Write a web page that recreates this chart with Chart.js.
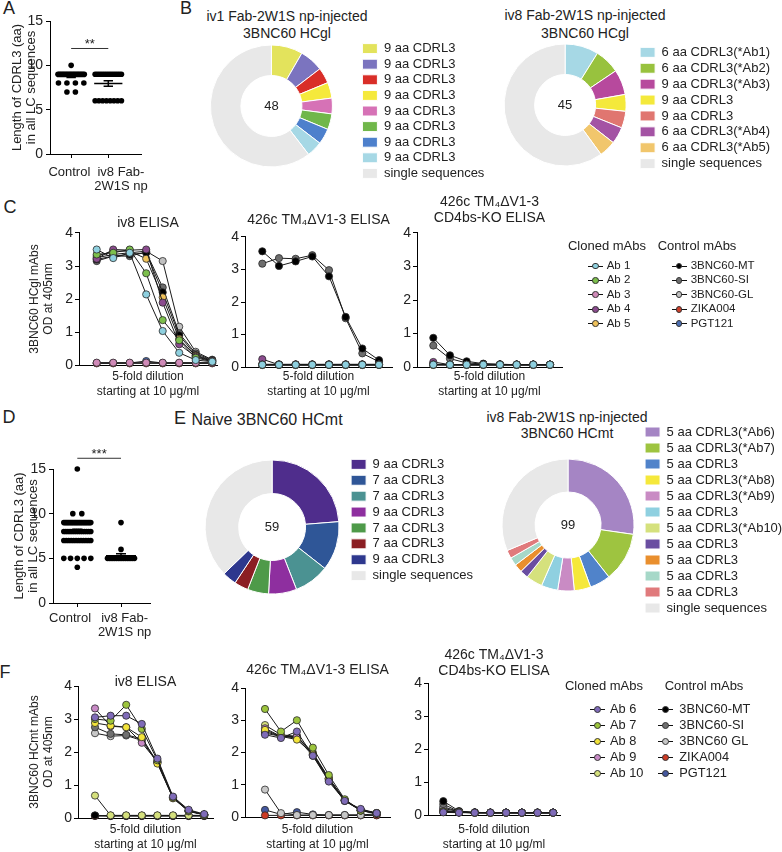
<!DOCTYPE html>
<html>
<head>
<meta charset="utf-8">
<title>3BNC60 light chain panels</title>
<script src="https://cdn.jsdelivr.net/npm/chart.js@4.4.1/dist/chart.umd.min.js"></script>
<style>
  body { margin: 0; background: #fff; }
  #fig { position: relative; width: 782px; height: 852px; overflow: hidden; background: #fff;
         font-family: "Liberation Sans", Arial, Helvetica, sans-serif; color: #222; }
  #fig canvas { position: absolute; }
  .lbl { position: absolute; white-space: nowrap; line-height: 1; transform: translate(-50%, -50%); }
  .left { transform: translate(0, -50%); }
  .mk { position: absolute; height: 1px; background: #111; }
  .dot { position: absolute; border-radius: 50%; border: 1px solid #333; box-sizing: border-box; }
</style>
</head>
<body>
<div id="fig"></div>
<script>
// ---------- data ----------
// A / D: CDRL3 length (aa) of every light chain sequence
const aControl = [10, 9, 9, 9, 9, 9, 9, 9, 9, 9, 9, 9, 9, 9, 9, 9, 9, 9, 9, 9, 9, 8, 8, 8, 8, 7, 7];
const aIv8 = [9, 9, 9, 9, 9, 9, 9, 9, 9, 9, 9, 9, 9, 9, 9, 6, 6, 6, 6, 6, 6, 6, 6];
const dControl = [15, 10, 10, 9, 9, 9, 9, 9, 9, 9, 9, 9, 9, 9, 9, 9, 9, 9, 9, 9, 9, 9, 9, 9, 9,
                  8, 8, 8, 8, 8, 8, 8, 8, 8, 8, 8, 8, 8, 8, 7, 7, 7, 7, 7, 7, 7, 7, 7, 7, 7, 7,
                  5, 5, 5, 5, 5, 4];
const dIv8 = [9, 6, 5, 5, 5, 5, 5, 5, 5, 5, 5, 5, 5, 5, 5, 5, 5, 5];
const groupLabels = ['Control', ['iv8 Fab-', '2W1S np']];

// B / E: clone sizes (number of sequences)
const b1Labels = ['9 aa CDRL3', '9 aa CDRL3', '9 aa CDRL3', '9 aa CDRL3', '9 aa CDRL3', '9 aa CDRL3', '9 aa CDRL3', '9 aa CDRL3', 'single sequences'];
const b1Counts = [4, 3, 2, 2, 2, 2, 2, 2, 29];
const b1Colors = ['#e3e35c', '#7b74bf', '#d92e28', '#f5e93c', '#d672b6', '#70b74a', '#4d80cc', '#a6d8e5', '#e8e8e8'];

const b2Labels = ['6 aa CDRL3(*Ab1)', '6 aa CDRL3(*Ab2)', '9 aa CDRL3(*Ab3)', '9 aa CDRL3', '9 aa CDRL3', '6 aa CDRL3(*Ab4)', '6 aa CDRL3(*Ab5)', 'single sequences'];
const b2Counts = [4, 3, 3, 2, 2, 2, 2, 27];
const b2Colors = ['#a6d8e5', '#98c23e', '#b7499d', '#f4e93b', '#e07670', '#a453a4', '#f1c66c', '#e8e8e8'];

const e1Labels = ['9 aa CDRL3', '7 aa CDRL3', '7 aa CDRL3', '9 aa CDRL3', '7 aa CDRL3', '7 aa CDRL3', '9 aa CDRL3', 'single sequences'];
const e1Counts = [14, 7, 5, 4, 3, 2, 2, 22];
const e1Colors = ['#4f2d8c', '#2f5697', '#4b9292', '#8e2f9f', '#4e9a49', '#8b1e23', '#2e388e', '#e8e8e8'];

const e2Labels = ['5 aa CDRL3(*Ab6)', '5 aa CDRL3(*Ab7)', '5 aa CDRL3', '5 aa CDRL3(*Ab8)', '5 aa CDRL3(*Ab9)', '5 aa CDRL3',
                  '5 aa CDRL3(*Ab10)', '5 aa CDRL3', '5 aa CDRL3', '5 aa CDRL3', '5 aa CDRL3', 'single sequences'];
const e2Counts = [27, 12, 5, 4, 4, 4, 4, 2, 2, 2, 2, 31];
const e2Colors = ['#a585c4', '#9ec440', '#5083ca', '#f5e83b', '#c98bc4', '#8fd0e0', '#d5e17d', '#6a4ea1', '#e98f2e', '#a6d8c8', '#e07a7c', '#e8e8e8'];

// C / F: ELISA OD at 405 nm over a 5-fold dilution series (8 steps from 10 ug/ml)
const dilutionSteps = [1, 2, 3, 4, 5, 6, 7, 8];
const cNames = ['Ab 1', 'Ab 2', 'Ab 3', 'Ab 4', 'Ab 5', '3BNC60-MT', '3BNC60-SI', '3BNC60-GL', 'ZIKA004', 'PGT121'];
const cColors = ['#8ed0df', '#7cbf4c', '#d08ab8', '#8b4b8e', '#f0c25a', '#000000', '#6d6d6d', '#c0c0c0', '#d0402a', '#4c6fb4'];
const cIv8 = [
  [3.50, 3.24, 3.40, 2.14, 1.03, 0.37, 0.15, 0.10],
  [3.35, 3.40, 3.50, 2.78, 1.36, 0.75, 0.22, 0.10],
  [0.07, 0.07, 0.07, 0.07, 0.07, 0.07, 0.07, 0.07],
  [3.22, 3.50, 3.48, 3.50, 1.89, 0.63, 0.25, 0.12],
  [3.30, 3.45, 3.45, 3.22, 2.05, 0.79, 0.28, 0.12],
  [3.20, 3.30, 3.35, 3.40, 2.20, 0.90, 0.30, 0.14],
  [3.15, 3.30, 3.30, 3.42, 2.35, 0.96, 0.35, 0.15],
  [3.25, 3.35, 3.40, 3.45, 3.15, 1.16, 0.40, 0.16],
  [0.05, 0.05, 0.05, 0.05, 0.05, 0.05, 0.05, 0.05],
  [0.06, 0.06, 0.06, 0.12, 0.06, 0.06, 0.06, 0.06]
];
const c426c = [
  [0.07, 0.07, 0.07, 0.07, 0.07, 0.07, 0.07, 0.07],
  [0.07, 0.07, 0.07, 0.07, 0.07, 0.07, 0.07, 0.07],
  [0.08, 0.08, 0.08, 0.08, 0.08, 0.08, 0.08, 0.08],
  [0.24, 0.07, 0.07, 0.07, 0.07, 0.07, 0.07, 0.07],
  [0.07, 0.07, 0.07, 0.07, 0.07, 0.07, 0.07, 0.07],
  [3.56, 3.11, 3.25, 3.40, 2.79, 1.54, 0.57, 0.21],
  [3.18, 3.35, 3.33, 3.44, 2.98, 1.50, 0.42, 0.16],
  [0.08, 0.08, 0.08, 0.08, 0.08, 0.08, 0.08, 0.08],
  [0.06, 0.06, 0.06, 0.06, 0.06, 0.06, 0.06, 0.06],
  [0.07, 0.07, 0.07, 0.07, 0.07, 0.07, 0.07, 0.07]
];
const cKO = [
  [0.07, 0.07, 0.07, 0.07, 0.07, 0.07, 0.07, 0.07],
  [0.07, 0.07, 0.07, 0.07, 0.07, 0.07, 0.07, 0.07],
  [0.08, 0.07, 0.07, 0.07, 0.07, 0.07, 0.07, 0.07],
  [0.15, 0.07, 0.07, 0.07, 0.07, 0.07, 0.07, 0.07],
  [0.07, 0.07, 0.07, 0.07, 0.07, 0.07, 0.07, 0.07],
  [0.87, 0.35, 0.17, 0.10, 0.08, 0.07, 0.07, 0.07],
  [0.64, 0.25, 0.12, 0.09, 0.08, 0.07, 0.07, 0.07],
  [0.08, 0.07, 0.07, 0.07, 0.07, 0.07, 0.07, 0.07],
  [0.06, 0.06, 0.06, 0.06, 0.06, 0.06, 0.06, 0.06],
  [0.07, 0.07, 0.07, 0.07, 0.07, 0.07, 0.07, 0.07]
];

const fNames = ['Ab 6', 'Ab 7', 'Ab 8', 'Ab 9', 'Ab 10', '3BNC60-MT', '3BNC60-SI', '3BNC60 GL', 'ZIKA004', 'PGT121'];
const fColors = ['#7f6bb8', '#9cc43c', '#f2e33a', '#c88ac6', '#d5e07c', '#000000', '#707070', '#c8c8c8', '#cc3a24', '#44589f'];
const fIv8 = [
  [3.05, 3.10, 3.10, 2.85, 1.80, 0.65, 0.25, 0.12],
  [3.00, 2.95, 3.43, 2.70, 1.75, 0.63, 0.22, 0.10],
  [2.88, 2.80, 2.75, 2.45, 1.65, 0.60, 0.22, 0.10],
  [3.32, 2.78, 2.75, 2.28, 1.70, 0.62, 0.20, 0.10],
  [0.68, 0.08, 0.08, 0.08, 0.08, 0.08, 0.08, 0.08],
  [0.08, 0.07, 0.07, 0.07, 0.07, 0.07, 0.07, 0.07],
  [2.75, 2.55, 2.52, 2.40, 1.70, 0.62, 0.22, 0.10],
  [2.57, 2.48, 2.50, 2.35, 1.68, 0.60, 0.20, 0.10],
  [0.06, 0.06, 0.06, 0.06, 0.06, 0.06, 0.06, 0.06],
  [0.07, 0.07, 0.07, 0.07, 0.07, 0.07, 0.07, 0.07]
];
const f426c = [
  [2.55, 2.45, 2.65, 1.90, 1.10, 0.50, 0.25, 0.12],
  [3.35, 2.65, 3.00, 2.15, 1.30, 0.55, 0.20, 0.12],
  [2.70, 2.50, 2.40, 1.95, 1.20, 0.52, 0.20, 0.12],
  [2.75, 2.50, 2.50, 1.95, 1.15, 0.50, 0.22, 0.12],
  [2.85, 2.55, 2.50, 2.00, 1.20, 0.52, 0.20, 0.12],
  [2.60, 2.50, 2.45, 1.90, 1.15, 0.50, 0.20, 0.10],
  [2.65, 2.50, 2.50, 1.95, 1.20, 0.52, 0.22, 0.12],
  [0.85, 0.12, 0.06, 0.06, 0.06, 0.06, 0.06, 0.10],
  [0.05, 0.05, 0.05, 0.05, 0.05, 0.05, 0.05, 0.05],
  [0.22, 0.08, 0.15, 0.08, 0.06, 0.06, 0.06, 0.06]
];
const fKO = [
  [0.08, 0.07, 0.07, 0.07, 0.07, 0.07, 0.07, 0.07],
  [0.10, 0.08, 0.07, 0.07, 0.07, 0.07, 0.07, 0.07],
  [0.09, 0.08, 0.07, 0.07, 0.07, 0.07, 0.07, 0.07],
  [0.12, 0.08, 0.07, 0.07, 0.07, 0.07, 0.07, 0.07],
  [0.10, 0.08, 0.07, 0.07, 0.07, 0.07, 0.07, 0.07],
  [0.42, 0.12, 0.08, 0.07, 0.07, 0.07, 0.07, 0.07],
  [0.33, 0.10, 0.08, 0.07, 0.07, 0.07, 0.07, 0.07],
  [0.25, 0.10, 0.07, 0.07, 0.07, 0.07, 0.07, 0.07],
  [0.15, 0.08, 0.07, 0.07, 0.07, 0.07, 0.07, 0.07],
  [0.20, 0.10, 0.07, 0.07, 0.07, 0.07, 0.07, 0.07]
];

// ---------- setup ----------
const FONT = '"Liberation Sans", Arial, Helvetica, sans-serif';
Chart.defaults.font.family = FONT;
Chart.defaults.color = '#222';
Chart.defaults.animation = false;
Chart.defaults.responsive = false;
Chart.defaults.plugins.tooltip.enabled = false;

const fig = document.getElementById('fig');
const measureCtx = document.createElement('canvas').getContext('2d');

function addCanvas(left, top, w, h) {
  const c = document.createElement('canvas');
  w = Math.round(w); h = Math.round(h);
  c.width = w; c.height = h;
  Object.assign(c.style, {left: Math.round(left) + 'px', top: Math.round(top) + 'px', width: w + 'px', height: h + 'px'});
  fig.appendChild(c);
  return c;
}

function addText(text, x, y, size, cls) {
  const d = document.createElement('div');
  d.className = 'lbl' + (cls ? ' ' + cls : '');
  d.textContent = text;
  d.style.left = x + 'px';
  d.style.top = y + 'px';
  d.style.fontSize = size + 'px';
  fig.appendChild(d);
}

const axisGrid = {display: true, drawOnChartArea: false, drawTicks: true, tickLength: 4, color: '#000'};
const axisBorder = {display: true, color: '#000', width: 1};

// Prism puts the group labels a little off their ticks; shift with spaces
const shiftText = (t, k) => k >= 0 ? '\u00a0'.repeat(k) + t : t + '\u00a0'.repeat(-k);

// ---------- dot plots (A, D) ----------
function dotPlot(g) {
  const left = 3;
  const yW = g.axisX - left;
  const u = g.centers[1] - g.centers[0];
  const xH = 44, padR = 12;
  const W = yW + (g.xEnd - g.axisX) + padR;
  const H = g.yBottom - g.top + xH;
  const spread = g.spreadPx / u, maxStep = 9 / u;

  const dots = [], means = [];
  g.groups.forEach((vals, k) => {
    const c = k + 1;
    const counts = {};
    vals.forEach(v => { counts[v] = (counts[v] || 0) + 1; });
    Object.keys(counts).forEach(key => {
      const n = counts[key];
      const step = n > 1 ? Math.min(maxStep, spread / (n - 1)) : 0;
      for (let j = 0; j < n; j++) dots.push({x: c + (j - (n - 1) / 2) * step, y: +key});
    });
    // mean with SEM
    const m = vals.reduce((a, b) => a + b, 0) / vals.length;
    const sd = Math.sqrt(vals.reduce((a, b) => a + (b - m) * (b - m), 0) / (vals.length - 1));
    const sem = sd / Math.sqrt(vals.length);
    const hw = 15 / u, cw = 5 / u;
    means.push({x: c - hw, y: m}, {x: c + hw, y: m}, {x: c, y: null},
               {x: c, y: m - sem}, {x: c, y: m + sem}, {x: c, y: null},
               {x: c - cw, y: m + sem}, {x: c + cw, y: m + sem}, {x: c, y: null},
               {x: c - cw, y: m - sem}, {x: c + cw, y: m - sem}, {x: c, y: null});
  });

  const stars = {
    id: 'stars',
    afterDatasetsDraw(chart) {
      const {ctx, scales} = chart;
      ctx.save();
      ctx.font = '13px ' + FONT;
      ctx.fillStyle = '#222';
      ctx.textAlign = 'center';
      ctx.textBaseline = 'middle';
      ctx.fillText(g.stars, scales.x.getPixelForValue(1.5), scales.y.getPixelForValue(g.sigY) - 4);
      ctx.restore();
    }
  };

  new Chart(addCanvas(left, g.top, W, H), {
    type: 'scatter',
    data: {
      datasets: [
        {type: 'line', data: means, borderColor: '#000', borderWidth: 1.5, pointRadius: 0, spanGaps: false, clip: false},
        {type: 'line', data: [{x: 1, y: g.sigY}, {x: 2, y: g.sigY}], borderColor: '#333', borderWidth: 1, pointRadius: 0, clip: false},
        {data: dots, pointRadius: 2.8, backgroundColor: '#000', borderWidth: 0, clip: false}
      ]
    },
    options: {
      layout: {padding: {top: g.yTop - g.top, right: padR}, autoPadding: false},
      plugins: {legend: {display: false}},
      scales: {
        x: {
          type: 'linear',
          min: 1 - (g.centers[0] - g.axisX) / u,
          max: 2 + (g.xEnd - g.centers[1]) / u,
          afterBuildTicks: s => { s.ticks = [{value: 1}, {value: 2}]; },
          ticks: {
            callback: v => {
              const lab = groupLabels[v - 1], k = g.labelShift[v - 1];
              return Array.isArray(lab) ? lab.map(s => shiftText(s, k)) : shiftText(lab, k);
            },
            color: '#222', font: {size: 13, lineHeight: 1.08}, padding: g.labelPad, maxRotation: 0, autoSkip: false
          },
          grid: axisGrid, border: axisBorder,
          afterFit: s => { s.height = xH; }
        },
        y: {
          min: 0, max: 15,
          ticks: {stepSize: 5, color: '#222', font: {size: 14}, padding: 3},
          grid: axisGrid, border: axisBorder,
          title: {display: true, text: ['Length of CDRL3 (aa)', 'in all LC sequences'], color: '#222',
                  font: {size: 13, lineHeight: 1.05}, padding: {top: g.yTitleX - left - 6.8, bottom: 0}},
          afterFit: s => { s.width = yW; }
        }
      }
    },
    plugins: [stars]
  });
}

// ---------- doughnuts (B, E) ----------
const centerCount = {
  id: 'centerCount',
  afterDatasetsDraw(chart) {
    const arc = chart.getDatasetMeta(0).data[0];
    const total = chart.data.datasets[0].data.reduce((a, b) => a + b, 0);
    const {ctx} = chart;
    ctx.save();
    ctx.font = '13px ' + FONT;
    ctx.fillStyle = '#222';
    ctx.textAlign = 'center';
    ctx.textBaseline = 'middle';
    ctx.fillText(String(total), arc.x, arc.y);
    ctx.restore();
  }
};

// nudge > 0 moves the legend block down, nudge < 0 moves it up (relative to the ring)
function donut(g) {
  // legend width as Chart.js computes it: padding + box + gap + text + 10
  measureCtx.font = '13px ' + FONT;
  const tw = Math.max(...g.labels.map(t => measureCtx.measureText(t).width));
  const legendW = g.pad + 15 + 6.5 + tw + 10;
  const a = g.boxLeft - g.pad - g.cx;
  const W = Math.ceil(2 * a + legendW);
  const H = 224;
  const up = Math.max(-g.nudge, 0), down = Math.max(g.nudge, 0);
  new Chart(addCanvas(g.cx - a, g.cy - H / 2 - up, W, H), {
    type: 'doughnut',
    data: {
      labels: g.labels,
      datasets: [{data: g.counts, backgroundColor: g.colors, borderColor: '#fff', borderWidth: 1, radius: g.r, cutout: '50%'}]
    },
    options: {
      layout: {padding: {right: W - 2 * a - legendW}, autoPadding: false},
      plugins: {
        title: {display: up > 0, text: '', fullSize: false, padding: 0, font: {size: Math.max(2 * up, 1), lineHeight: 1}},
        legend: {
          position: 'right',
          title: {display: down > 0, text: '', padding: 0, font: {size: Math.max(2 * down, 1), lineHeight: 1}},
          labels: {boxWidth: 15, boxHeight: 10, padding: g.pad, color: '#222', font: {size: 13}}
        }
      }
    },
    plugins: [centerCount]
  });
}

// ---------- ELISA line charts (C, F) ----------
function elisa(g) {
  const left = Math.round(g.axisX - (g.yTitle ? 56 : 22));
  const yW = g.axisX - left;
  const n = g.title.length, lh = 15.4;
  const pb = g.yTop - lh / 2 - g.titleY;
  const top = Math.floor(g.yTop - n * lh - pb);
  const pt = g.yTop - n * lh - pb - top;
  const xH = 38, padR = 6;
  const last = g.firstPt + 7 * g.step;
  const W = yW + (g.xEnd - g.axisX) + padR;
  const H = g.yBottom - top + xH;

  const datasets = g.values.map((vals, i) => ({
    label: g.names[i],
    data: vals.map((v, j) => ({x: dilutionSteps[j], y: v})),
    borderColor: '#1a1a1a', borderWidth: 1,
    pointRadius: g.dot, pointBorderWidth: 0.8, pointBorderColor: '#2a2a2a',
    pointBackgroundColor: g.colors[i], backgroundColor: g.colors[i],
    clip: false
  }));

  new Chart(addCanvas(left, top, W, H), {
    type: 'line',
    data: {datasets},
    options: {
      layout: {padding: {right: padR}, autoPadding: false},
      plugins: {
        legend: {display: false},
        title: {display: true, text: g.title, fullSize: false, color: '#222',
                font: {size: 14, weight: 'normal', lineHeight: 1.1}, padding: {top: pt, bottom: pb}}
      },
      scales: {
        x: {
          type: 'linear',
          min: 1 - (g.firstPt - g.axisX) / g.step,
          max: 8 + (g.xEnd - last) / g.step,
          ticks: {display: false}, grid: {display: false}, border: axisBorder,
          title: {display: true, text: ['5-fold dilution', 'starting at 10 \u03bcg/ml'], color: '#222',
                  font: {size: 12, lineHeight: 1.25}, padding: {top: 0, bottom: g.yBottom + xH - 7.5 - g.xTitleY2}},
          afterFit: s => { s.height = xH; }
        },
        y: {
          min: 0, max: 4,
          ticks: {stepSize: 1, color: '#222', font: {size: 14}, padding: 2},
          grid: axisGrid, border: axisBorder,
          title: g.yTitle
            ? {display: true, text: g.yTitle, color: '#222', font: {size: 12, lineHeight: 1.1}, padding: {top: g.yTitleX - left - 6.6, bottom: 0}}
            : {display: false},
          afterFit: s => { s.width = yW; }
        }
      }
    }
  });
}

// legend shared by the three ELISA charts of a row
function mabLegend(g) {
  addText('Cloned mAbs', g.headX[0], g.headY, 13);
  addText('Control mAbs', g.headX[1], g.headY, 13);
  g.names.forEach((name, i) => {
    const col = i < 5 ? 0 : 1;
    const y = g.rowY + (i % 5) * g.dy;
    const mx = g.markX[col];
    const line = document.createElement('div');
    line.className = 'mk';
    Object.assign(line.style, {left: (mx - 7.5) + 'px', top: (y - 0.5) + 'px', width: '15px'});
    fig.appendChild(line);
    const dot = document.createElement('div');
    dot.className = 'dot';
    Object.assign(dot.style, {left: (mx - g.dot / 2) + 'px', top: (y - g.dot / 2) + 'px',
                              width: g.dot + 'px', height: g.dot + 'px', background: g.colors[i]});
    fig.appendChild(dot);
    addText(name, g.textX[col], y, g.font, 'left');
  });
}

// ---------- panels ----------
addText('A', 9, 8, 18);
addText('B', 186, 8, 18);
addText('C', 10, 207, 18);
addText('D', 9, 417, 18);
addText('E', 180, 418, 18);
addText('F', 5, 672, 18);

dotPlot({top: 0, axisX: 50, yTop: 21, yBottom: 154, centers: [72.5, 112], xEnd: 147, labelPad: 7, labelShift: [-1, 7],
         groups: [aControl, aIv8], spreadPx: 28, yTitleX: 17.5, sigY: 11.9, stars: '**'});
dotPlot({top: 438, axisX: 53, yTop: 469, yBottom: 603, centers: [77.3, 121], xEnd: 150, labelPad: 4, labelShift: [-4, 2],
         groups: [dControl, dIv8], spreadPx: 27, yTitleX: 19.5, sigY: 16.2, stars: '***'});

addText('iv1 Fab-2W1S np-injected', 287, 16, 14);
addText('3BNC60 HCgl', 287, 33, 14);
donut({cx: 271, cy: 106, r: 61, boxLeft: 362, pad: 2.6, nudge: 5, labels: b1Labels, counts: b1Counts, colors: b1Colors});
addText('iv8 Fab-2W1S np-injected', 585, 15, 14);
addText('3BNC60 HCgl', 585, 33, 14);
donut({cx: 565, cy: 105, r: 61, boxLeft: 640, pad: 2.9, nudge: 3, labels: b2Labels, counts: b2Counts, colors: b2Colors});

addText('Naive 3BNC60 HCmt', 267, 420, 16);
donut({cx: 272, cy: 527, r: 67, boxLeft: 351, pad: 2.9, nudge: -7, labels: e1Labels, counts: e1Counts, colors: e1Colors});
addText('iv8 Fab-2W1S np-injected', 567, 417, 14);
addText('3BNC60 HCmt', 567, 433, 14);
donut({cx: 567, cy: 525, r: 66, boxLeft: 643, pad: 3, nudge: -5, labels: e2Labels, counts: e2Counts, colors: e2Colors});

elisa({axisX: 79, yTop: 233, yBottom: 365, firstPt: 96.7, step: 16.5, xEnd: 217, title: ['iv8 ELISA'], titleY: 223,
       yTitle: ['3BNC60 HCgl mAbs', 'OD at 405nm'], yTitleX: 35, xTitleY2: 391.7, dot: 3.6,
       values: cIv8, names: cNames, colors: cColors});
elisa({axisX: 245, yTop: 237, yBottom: 367, firstPt: 262.3, step: 16.67, xEnd: 392, title: ['426c TM\u2084\u0394V1-3 ELISA'], titleY: 220,
       xTitleY2: 391.7, dot: 3.6, values: c426c, names: cNames, colors: cColors});
elisa({axisX: 417, yTop: 233, yBottom: 367, firstPt: 433.3, step: 16.67, xEnd: 562, title: ['426c TM\u2084\u0394V1-3', 'CD4bs-KO ELISA'], titleY: 218,
       xTitleY2: 391.7, dot: 3.6, values: cKO, names: cNames, colors: cColors});
mabLegend({names: cNames, colors: cColors, headX: [607, 697], headY: 245, rowY: 266, dy: 14.4,
           markX: [595.7, 679], textX: [606.7, 690.7], font: 11.5, dot: 6.7});

elisa({axisX: 78, yTop: 686, yBottom: 818, firstPt: 95, step: 15.6, xEnd: 213, title: ['iv8 ELISA'], titleY: 681.7,
       yTitle: ['3BNC60 HCmt mAbs', 'OD at 405nm'], yTitleX: 35, xTitleY2: 845, dot: 3.6,
       values: fIv8, names: fNames, colors: fColors});
elisa({axisX: 245, yTop: 688, yBottom: 817, firstPt: 265, step: 15.95, xEnd: 390, title: ['426c TM\u2084\u0394V1-3 ELISA'], titleY: 670,
       xTitleY2: 845, dot: 3.6, values: f426c, names: fNames, colors: fColors});
elisa({axisX: 428, yTop: 683, yBottom: 815, firstPt: 443.3, step: 15.7, xEnd: 560, title: ['426c TM\u2084\u0394V1-3', 'CD4bs-KO ELISA'], titleY: 671,
       xTitleY2: 845, dot: 3.6, values: fKO, names: fNames, colors: fColors});
mabLegend({names: fNames, colors: fColors, headX: [604, 704], headY: 685, rowY: 709.3, dy: 16,
           markX: [597.5, 665.5], textX: [610, 679.3], font: 12.8, dot: 7.3});
</script>
</body>
</html>
